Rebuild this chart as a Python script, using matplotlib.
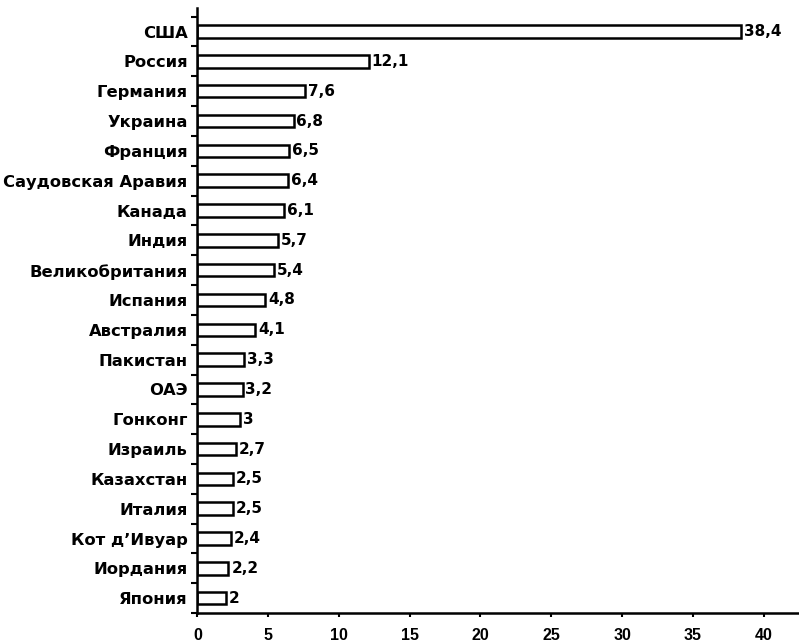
import matplotlib.pyplot as plt
import numpy as np

countries = ['США', 'Россия', 'Германия', 'Украина', 'Франция', 'Саудовская Аравия',
             'Канада', 'Индия', 'Великобритания', 'Испания', 'Австралия', 'Пакистан',
             'ОАЭ', 'Гонконг', 'Израиль', 'Казахстан', 'Италия', 'Кот д’Ивуар',
             'Иордания', 'Япония']
values = [38.4, 12.1, 7.6, 6.8, 6.5, 6.4, 6.1, 5.7, 5.4, 4.8, 4.1, 3.3, 3.2, 3.0,
          2.7, 2.5, 2.5, 2.4, 2.2, 2.0]
xticks = [0, 5, 10, 15, 20, 25, 30, 35, 40]

plt.rcParams['font.family'] = ['DejaVu Sans']
plt.rcParams['font.weight'] = 'bold'

fig = plt.figure(figsize=(7.99, 6.44), dpi=100)
ax = fig.add_axes([0.247, 0.048, 0.753, 0.94])

y = np.arange(len(countries))
ax.barh(y, values, height=0.42, color='white', edgecolor='black', linewidth=1.8)

for yi, v in zip(y, values):
    txt = ('%g' % v).replace('.', ',')
    ax.text(v + 0.2, yi, txt, va='center', ha='left', fontsize=11, fontweight='bold')

ax.set_yticks(y)
ax.set_yticklabels(countries, fontsize=11.8, fontweight='bold')
ax.set_yticks(np.arange(len(countries) + 1) - 0.5, minor=True)
ax.tick_params(axis='y', which='major', length=0, pad=7)
ax.tick_params(axis='y', which='minor', length=4, width=1.5, direction='out')
ax.set_ylim(len(countries) - 0.5, -0.8)

ax.set_xticks(xticks)
ax.set_xticklabels([str(t) for t in xticks])
for lbl in ax.get_xticklabels():
    lbl.set_fontfamily('Liberation Sans')
    lbl.set_fontsize(11.5)
    lbl.set_fontweight('bold')
ax.set_xlim(0, 42.5)
ax.tick_params(axis='x', length=3, width=1.5, direction='out', pad=7.5)

for s in ['top', 'right']:
    ax.spines[s].set_visible(False)
for s in ['left', 'bottom']:
    ax.spines[s].set_linewidth(1.8)

fig.savefig('out.png', dpi=100)
